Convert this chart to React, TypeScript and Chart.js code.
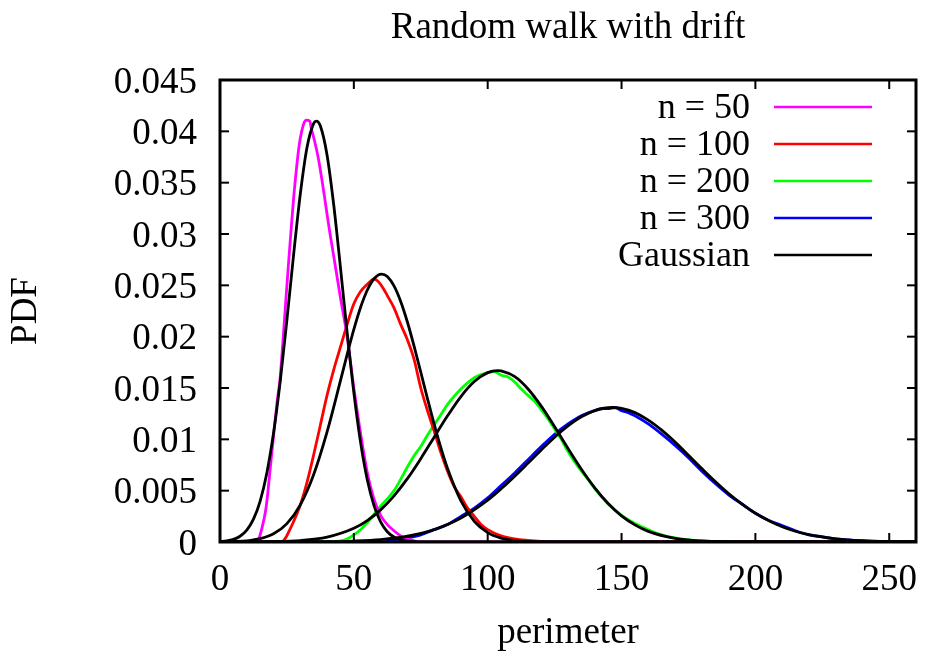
import React, { useEffect, useRef } from 'react';
import { Chart, registerables } from 'chart.js';

Chart.register(...registerables);

const FONT = '"Liberation Serif", "Times New Roman", serif';

const titleText = 'Random walk with drift';
const xLabel = 'perimeter';
const yLabel = 'PDF';

const legendLabels = ['n = 50', 'n = 100', 'n = 200', 'n = 300', 'Gaussian'];
const legendColors = ['#ff00ff', '#ff0000', '#00ff00', '#0000ff', '#000000'];

// n = 50 histogram (magenta)
const n50X = [0, 13.5, 14.5, 15.8, 17, 17.7, 18.5, 19.6, 20.5, 21.4, 22.4, 23.5, 24.5, 25.5, 26.5, 27.5, 28.5, 29.5, 30.5, 31.5, 32.2, 33.5, 34.2, 35, 36, 37, 38, 39, 40, 41, 42, 43, 45, 47.5, 50, 52.5, 55, 57.5, 60, 62.5, 65, 67.5, 70, 72.5, 75, 80, 260];
const n50Y = [0, 0, 0.0003, 0.0015, 0.003, 0.0044, 0.0065, 0.0093, 0.0116, 0.0138, 0.0158, 0.0195, 0.0232, 0.0268, 0.0302, 0.0335, 0.0362, 0.0385, 0.04, 0.0409, 0.0411, 0.041, 0.0402, 0.0394, 0.0383, 0.037, 0.0354, 0.0337, 0.0319, 0.0302, 0.0286, 0.027, 0.0238, 0.02, 0.015, 0.0106, 0.0068, 0.0042, 0.0026, 0.0017, 0.0011, 0.0006, 0.0003, 0.0001, 0, 0, 0];

// n = 100 histogram (red)
const n100X = [0, 23, 24.5, 25.5, 27.5, 30, 32.5, 35, 37.5, 40, 42.5, 45, 47.5, 50, 52.5, 55, 57.5, 59, 61, 62.5, 65, 67.5, 70, 72.5, 75, 77.5, 80, 82.5, 85, 87.5, 90, 92.5, 95, 97.5, 100, 105, 110, 115, 120, 125, 260];
const n100Y = [0, 0, 0.0004, 0.0009, 0.002, 0.0036, 0.0058, 0.0085, 0.0114, 0.0143, 0.0168, 0.019, 0.0212, 0.0232, 0.0244, 0.0251, 0.0256, 0.0254, 0.0247, 0.024, 0.0228, 0.0212, 0.0197, 0.0178, 0.015, 0.0128, 0.0108, 0.0087, 0.0069, 0.0054, 0.0044, 0.0033, 0.0025, 0.0017, 0.0012, 0.0006, 0.0003, 0.00015, 0.00005, 0, 0];

// n = 200 histogram (green)
const n200X = [0, 42, 45, 47.5, 50, 52.5, 55, 57.5, 60, 62.5, 65, 67.5, 70, 72.5, 75, 77.5, 80, 82.5, 85, 87.5, 90, 92.5, 95, 97.5, 100, 102.5, 104, 105.5, 107.5, 110, 112.5, 115, 117.5, 120, 122.5, 125, 127.5, 130, 132.5, 135, 137.5, 140, 145, 150, 155, 160, 165, 170, 180, 190, 260];
const n200Y = [0, 0, 0.0001, 0.0003, 0.0007, 0.0012, 0.0019, 0.0027, 0.0035, 0.0042, 0.005, 0.0061, 0.0073, 0.0084, 0.0093, 0.0104, 0.0114, 0.0124, 0.0134, 0.0142, 0.0149, 0.0155, 0.016, 0.0163, 0.0165, 0.0166, 0.0164, 0.0162, 0.0161, 0.0156, 0.0149, 0.0143, 0.0137, 0.0129, 0.012, 0.011, 0.01, 0.0088, 0.0078, 0.0069, 0.0061, 0.0052, 0.0037, 0.0026, 0.0018, 0.0012, 0.0007, 0.0004, 0.0001, 0, 0];

// n = 300 histogram (blue)
const n300X = [0, 60, 65, 70, 75, 80, 85, 90, 95, 100, 105, 110, 115, 120, 125, 130, 135, 140, 142.5, 145, 147.5, 150, 152.5, 155, 160, 165, 170, 175, 180, 185, 190, 195, 200, 205, 210, 215, 220, 225, 230, 235, 240, 250, 260];
const n300Y = [0, 0, 0.0002, 0.0004, 0.0007, 0.0012, 0.0017, 0.0025, 0.0033, 0.0043, 0.0055, 0.0067, 0.008, 0.0093, 0.0105, 0.0115, 0.0123, 0.0128, 0.013, 0.013, 0.0131, 0.0128, 0.0126, 0.0123, 0.0115, 0.0105, 0.0094, 0.0082, 0.0069, 0.0057, 0.0046, 0.0037, 0.0028, 0.0021, 0.0016, 0.0011, 0.0007, 0.0005, 0.0003, 0.0002, 0.0001, 0.00003, 0];

// Gaussian fits (black)
const g50X = [0, 2.5, 5, 7.5, 10, 12.5, 15, 17.5, 20, 22.5, 25, 27.5, 30, 32.5, 35, 36, 37.5, 40, 42.5, 45, 47.5, 50, 52.5, 55, 57.5, 60, 62.5, 65, 67.5, 70, 75, 80, 260];
const g50Y = [0.00004, 0.00011, 0.00026, 0.00056, 0.00115, 0.00222, 0.00399, 0.00673, 0.01061, 0.01565, 0.02164, 0.02799, 0.0339, 0.03843, 0.04078, 0.041, 0.04052, 0.03768, 0.0328, 0.02673, 0.02039, 0.01456, 0.00973, 0.00609, 0.00357, 0.00196, 0.001, 0.00048, 0.00022, 0.00009, 0.00001, 0, 0];

const g100X = [0, 5, 10, 15, 20, 25, 30, 35, 40, 45, 47.5, 50, 52.5, 55, 57.5, 60.4, 62.5, 65, 67.5, 70, 72.5, 75, 77.5, 80, 82.5, 85, 90, 95, 100, 105, 110, 115, 120, 130, 260];
const g100Y = [0.00001, 0.00004, 0.00011, 0.00032, 0.0008, 0.00179, 0.00362, 0.00657, 0.01072, 0.01571, 0.01828, 0.02071, 0.02284, 0.02452, 0.02564, 0.0261, 0.02586, 0.02494, 0.02343, 0.02143, 0.01908, 0.01654, 0.01397, 0.01148, 0.00918, 0.00715, 0.00401, 0.00202, 0.00091, 0.00037, 0.00014, 0.00004, 0.00001, 0, 0];

const g200X = [0, 20, 30, 40, 50, 55, 60, 65, 70, 75, 80, 85, 90, 95, 100, 103.7, 105, 110, 115, 120, 125, 130, 135, 140, 145, 150, 155, 160, 170, 180, 190, 200, 260];
const g200Y = [0, 0.00004, 0.00014, 0.00048, 0.00134, 0.00209, 0.00313, 0.0045, 0.00617, 0.00812, 0.01021, 0.01229, 0.01417, 0.01563, 0.0165, 0.0167, 0.01667, 0.01613, 0.01493, 0.01323, 0.01122, 0.00911, 0.00708, 0.00527, 0.00375, 0.00255, 0.00167, 0.00104, 0.00036, 0.0001, 0.00002, 0.000005, 0];

const g300X = [0, 40, 50, 60, 70, 80, 90, 100, 105, 110, 115, 120, 125, 130, 135, 140, 146.5, 150, 155, 160, 165, 170, 175, 180, 185, 190, 195, 200, 210, 220, 230, 240, 250, 260];
const g300Y = [0, 0.00003, 0.00009, 0.00023, 0.00056, 0.00121, 0.00234, 0.00408, 0.00518, 0.00639, 0.00767, 0.00897, 0.01021, 0.01131, 0.0122, 0.0128, 0.0131, 0.01301, 0.0126, 0.01187, 0.01089, 0.00973, 0.00845, 0.00715, 0.00589, 0.00472, 0.00369, 0.0028, 0.00149, 0.00071, 0.00031, 0.00012, 0.00004, 0.00001];

const xMin = 0;
const xMax = 260;
const xStep = 50;
const yMin = 0;
const yMax = 0.045;
const yStep = 0.005;

const framePlugin = {
  id: 'gnuFrame',
  afterDatasetsDraw(chart: any) {
    const { ctx, chartArea, scales } = chart;
    const { left, right, top, bottom } = chartArea;
    const tl = 9;
    ctx.save();
    ctx.strokeStyle = '#000';
    ctx.lineWidth = 2;
    const seg = (x1: number, y1: number, x2: number, y2: number) => {
      ctx.beginPath();
      ctx.moveTo(x1, y1);
      ctx.lineTo(x2, y2);
      ctx.stroke();
    };
    scales.x.ticks.forEach((t: any) => {
      const px = scales.x.getPixelForValue(t.value);
      seg(px, bottom, px, bottom - tl);
      seg(px, top, px, top + tl);
    });
    scales.y.ticks.forEach((t: any) => {
      const py = scales.y.getPixelForValue(t.value);
      seg(left, py, left + tl, py);
      seg(right, py, right - tl, py);
    });
    ctx.lineWidth = 3;
    ctx.strokeRect(left, top, right - left, bottom - top);
    ctx.restore();
  },
};

const legendPlugin = {
  id: 'gnuLegend',
  afterDraw(chart: any) {
    const { ctx, chartArea } = chart;
    const textRight = chartArea.right - 166;
    const lineStart = chartArea.right - 142;
    const lineEnd = chartArea.right - 44;
    const firstY = chartArea.top + 27;
    const gap = 37;
    ctx.save();
    ctx.font = `36px ${FONT}`;
    ctx.textAlign = 'right';
    ctx.textBaseline = 'middle';
    legendLabels.forEach((lab, i) => {
      const y = firstY + i * gap;
      ctx.fillStyle = '#000';
      ctx.fillText(lab, textRight, y + 2);
      ctx.strokeStyle = legendColors[i];
      ctx.lineWidth = 2.6;
      ctx.beginPath();
      ctx.moveTo(lineStart, y);
      ctx.lineTo(lineEnd, y);
      ctx.stroke();
    });
    ctx.restore();
  },
};

function pts(xs: number[], ys: number[]) {
  return xs.map((x, i) => ({ x, y: ys[i] }));
}

export default function App() {
  const ref = useRef<HTMLCanvasElement | null>(null);

  useEffect(() => {
    if (!ref.current) return;
    const mk = (label: string, xs: number[], ys: number[], color: string, order: number) => ({
      label,
      data: pts(xs, ys),
      borderColor: color,
      backgroundColor: color,
      borderWidth: 2.8,
      pointRadius: 0,
      fill: false,
      cubicInterpolationMode: 'monotone' as const,
      order,
    });
    const tickFont = { family: FONT, size: 37, weight: 'normal' as const };
    const chart = new Chart(ref.current, {
      type: 'line',
      data: {
        datasets: [
          mk('n = 50', n50X, n50Y, legendColors[0], 2),
          mk('n = 100', n100X, n100Y, legendColors[1], 2),
          mk('n = 200', n200X, n200Y, legendColors[2], 2),
          mk('n = 300', n300X, n300Y, legendColors[3], 2),
          mk('Gaussian', g50X, g50Y, '#000', 1),
          mk('Gaussian 100', g100X, g100Y, '#000', 1),
          mk('Gaussian 200', g200X, g200Y, '#000', 1),
          mk('Gaussian 300', g300X, g300Y, '#000', 1),
        ],
      },
      options: {
        animation: false,
        responsive: false,
        maintainAspectRatio: false,
        events: [],
        layout: { padding: { left: 0, right: 10, top: 0, bottom: 0 }, autoPadding: false },
        plugins: {
          legend: { display: false },
          tooltip: { enabled: false },
          title: {
            display: true,
            text: titleText,
            fullSize: false,
            color: '#000',
            font: { family: FONT, size: 37, weight: 'normal' },
            padding: { top: 6, bottom: 29.6 },
          },
        },
        scales: {
          x: {
            type: 'linear',
            min: xMin,
            max: xMax,
            afterFit: (s: any) => {
              s.height = 115;
              s.paddingLeft = 0;
              s.paddingRight = 0;
            },
            grid: { display: false, drawTicks: false },
            border: { display: false },
            ticks: {
              stepSize: xStep,
              includeBounds: false,
              autoSkip: false,
              maxRotation: 0,
              minRotation: 0,
              padding: 16,
              color: '#000',
              font: tickFont,
            },
            title: {
              display: true,
              text: xLabel,
              color: '#000',
              font: tickFont,
              padding: { top: 0, bottom: 2 },
            },
          },
          y: {
            type: 'linear',
            min: yMin,
            max: yMax,
            afterFit: (s: any) => {
              s.width = 220;
              s.paddingTop = 0;
              s.paddingBottom = 0;
            },
            grid: { display: false, drawTicks: false },
            border: { display: false },
            ticks: {
              stepSize: yStep,
              autoSkip: false,
              padding: 23,
              labelOffset: 3,
              color: '#000',
              font: tickFont,
              callback: (v: any) => String(Number(Number(v).toFixed(3))),
            },
            title: {
              display: true,
              text: yLabel,
              color: '#000',
              font: tickFont,
              padding: { top: 4, bottom: 0 },
            },
          },
        },
      },
      plugins: [framePlugin, legendPlugin],
    } as any);
    return () => chart.destroy();
  }, []);

  return (
    <div style={{ position: 'fixed', left: 0, top: 0, width: 926, height: 657, background: '#fff' }}>
      <canvas ref={ref} width={926} height={657} style={{ display: 'block', width: 926, height: 657 }} />
    </div>
  );
}
